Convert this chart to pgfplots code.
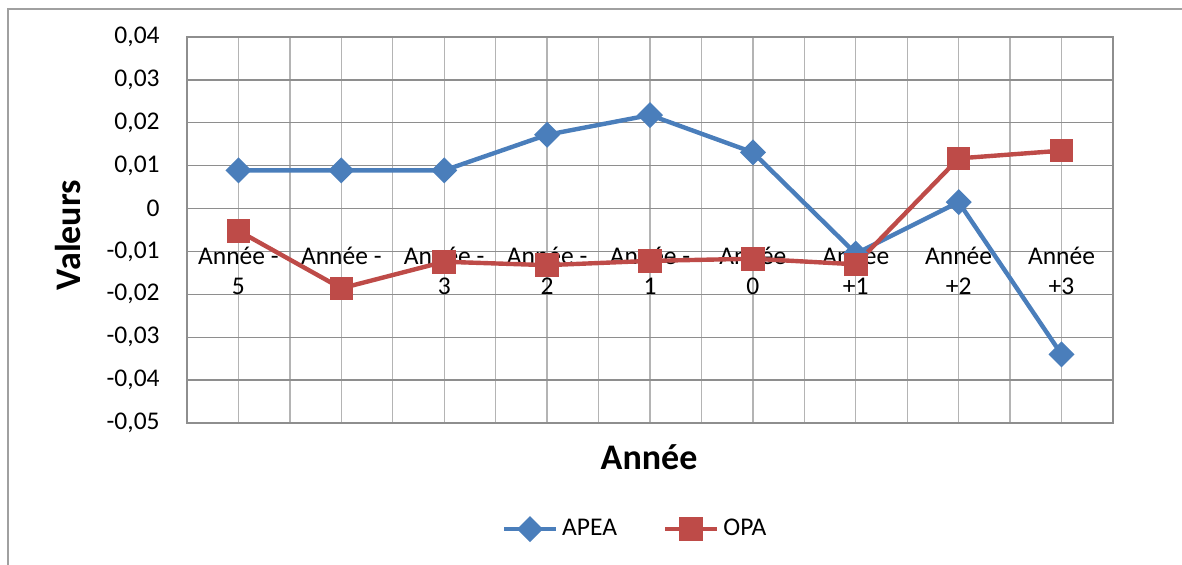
\documentclass[border=0pt]{standalone}
\usepackage{pgfplots}
\pgfplotsset{compat=1.18}
\usepackage{fontspec}
\setmainfont{Carlito}
\definecolor{apea}{HTML}{4A7EBB}
\definecolor{opa}{HTML}{BE4B48}
\definecolor{hgrid}{HTML}{8E8E8E}
\definecolor{vgrid}{HTML}{B4B4B4}
\definecolor{frame}{HTML}{A0A0A0}
\begin{document}
\begin{tikzpicture}
\begin{axis}[
  at={(0pt,0pt)}, anchor=south west,
  scale only axis, width=463pt, height=193pt,
  set layers,
  xmin=-0.5, xmax=8.5, ymin=-0.05, ymax=0.04,
  scaled y ticks=false,
  xtick={0,...,8},
  minor x tick num=1,
  xticklabels={{Année -\\5},{Année -\\4},{Année -\\3},{Année -\\2},{Année -\\1},{Année\\0},{Année\\+1},{Année\\+2},{Année\\+3}},
  ytick={-0.05,-0.04,-0.03,-0.02,-0.01,0,0.01,0.02,0.03,0.04},
  yticklabels={{-0,05},{-0,04},{-0,03},{-0,02},{-0,01},{0},{0,01},{0,02},{0,03},{0,04}},
  xticklabel style={font=\fontsize{12.75}{15}\selectfont, align=center, anchor=north, inner sep=0pt, yshift=88pt},
  yticklabel style={font=\fontsize{12.75}{15}\selectfont, anchor=east, inner sep=0pt, xshift=-13.5pt},
  major tick length=0pt, minor tick length=0pt,
  tick style={draw=none},
  xmajorgrids, xminorgrids, ymajorgrids,
  x grid style={vgrid, line width=0.65pt},
  minor x grid style={vgrid, line width=0.65pt},
  y grid style={hgrid, line width=0.65pt},
  axis line style={hgrid, line width=0.65pt},
  xlabel={Année}, ylabel={Valeurs},
  xlabel style={font=\fontsize{18}{20}\bfseries, at={(axis description cs:0.499,-0.088)}, anchor=center},
  ylabel style={font=\fontsize{18}{20}\bfseries, at={(axis description cs:-0.1285,0.487)}, anchor=center, rotate=0},
  legend style={at={(axis description cs:0.485,-0.275)}, anchor=center, draw=none, fill=none,
     legend columns=2, font=\fontsize{12.75}{15}\selectfont,
     /tikz/every even column/.append style={column sep=21pt}},
  legend cell align=left,
  legend image code/.code={\draw[mark repeat=2,mark phase=2] plot coordinates {(0pt,0pt)(13pt,0pt)(26pt,0pt)};},
]
\addplot[apea, line width=2.2pt, mark=square*, mark size=3.5pt, mark options={rotate=45, solid}]
coordinates {(0,0.0089)(1,0.0089)(2,0.0089)(3,0.0172)(4,0.0218)(5,0.0131)(6,-0.0105)(7,0.0015)(8,-0.0340)};
\addlegendentry{APEA}
\addplot[opa, line width=2.2pt, mark=square*, mark size=4.8pt, mark options={solid}]
coordinates {(0,-0.0052)(1,-0.0186)(2,-0.0124)(3,-0.0132)(4,-0.0122)(5,-0.0117)(6,-0.0130)(7,0.0117)(8,0.0135)};
\addlegendentry{OPA}
\end{axis}
\draw[frame, line width=0.8pt] (-89.5pt,-80pt) -- (-89.5pt,207pt) -- (510pt,207pt);
\pgfresetboundingbox
\useasboundingbox (-93.5pt,-71pt) rectangle (497.5pt,211.5pt);
\end{tikzpicture}
\end{document}
